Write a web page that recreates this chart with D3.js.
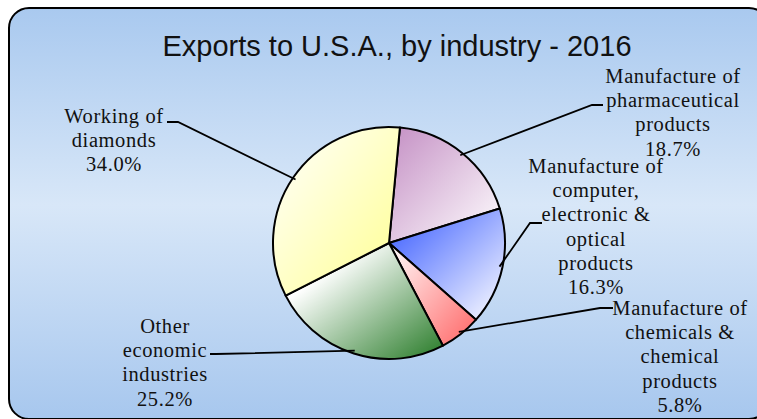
<!doctype html>
<html>
<head>
<style>
  body { margin: 0; background: #fff; }
  .lbl { font-family: "Liberation Serif", "Times New Roman", serif; font-size: 20.5px; letter-spacing: 0.6px; fill: #111; }
  .title { font-family: "Liberation Sans", Arial, sans-serif; font-size: 29px; fill: #111; }
</style>
<script src="https://cdn.jsdelivr.net/npm/d3@7"></script>
</head>
<body>
<svg width="757" height="419"></svg>
<script>

// data
var categories = ["pharma", "computer", "chemicals", "other", "diamonds"];
var values = [18.7, 16.3, 5.8, 25.2, 34.0];
var labelLines = [
    ["Manufacture of", "pharmaceutical", "products"],
    ["Manufacture of", "computer,", "electronic &", "optical", "products"],
    ["Manufacture of", "chemicals &", "chemical", "products"],
    ["Other", "economic", "industries"],
    ["Working of", "diamonds"]
];

// colours: [top-left, bottom-right]
var colors = {
    pharma: ["#c48fc4", "#ffffff"],
    computer: ["#3558ff", "#ffffff"],
    chemicals: ["#ffffff", "#ff6464"],
    other: ["#ffffff", "#267a26"],
    diamonds: ["#ffffff", "#ffff8f"]
};

// label layout: text centre x, first baseline, elbow start/end
var layout = {
    pharma:    { cx: 673, y: 83,  ex: 603, ey: 105, kx: 592 },
    computer:  { cx: 596, y: 173, ex: 542, ey: 223, kx: 530 },
    chemicals: { cx: 680, y: 315, ex: 613, ey: 308, kx: 600 },
    other:     { cx: 165, y: 333, ex: 210, ey: 354, kx: 216 },
    diamonds:  { cx: 114, y: 123, ex: 167, ey: 122, kx: 178 }
};

var svg = d3.select("svg");
var defs = svg.append("defs");

// background panel
var bg = defs.append("linearGradient").attr("id", "bg")
    .attr("x1", 0).attr("y1", 0).attr("x2", 0).attr("y2", 1);
bg.append("stop").attr("offset", "0%").attr("stop-color", "#a9c9ef");
bg.append("stop").attr("offset", "48%").attr("stop-color", "#d8e7f8");
bg.append("stop").attr("offset", "100%").attr("stop-color", "#a7c7ee");

svg.append("rect")
   .attr("x", 9).attr("y", 8)
   .attr("width", 760).attr("height", 411)
   .attr("rx", 20).attr("ry", 20)
   .attr("fill", "url(#bg)")
   .attr("stroke", "#000")
   .attr("stroke-width", 2);

svg.append("text")
   .attr("class", "title")
   .attr("x", 397)
   .attr("y", 56)
   .attr("text-anchor", "middle")
   .text("Exports to U.S.A., by industry - 2016");

categories.forEach(function(c) {
    var g = defs.append("linearGradient").attr("id", "g_" + c)
        .attr("x1", 0).attr("y1", 0).attr("x2", 1).attr("y2", 1);
    g.append("stop").attr("offset", c == "other" ? "25%" : "0%").attr("stop-color", colors[c][0]);
    g.append("stop").attr("offset", "100%").attr("stop-color", colors[c][1]);
});

var cx = 389, cy = 243, r = 116;
var start = 5.4 * Math.PI / 180;

var pie = d3.pie().sort(null).startAngle(start).endAngle(start + 2 * Math.PI);
var arcs = pie(values);
var arc = d3.arc().innerRadius(0).outerRadius(r);

var g = svg.append("g").attr("transform", "translate(" + cx + "," + cy + ")");

g.selectAll("path")
 .data(arcs)
 .enter().append("path")
 .attr("d", arc)
 .attr("fill", function(d, i) { return "url(#g_" + categories[i] + ")"; })
 .attr("stroke", "#000")
 .attr("stroke-width", 2)
 .attr("stroke-linejoin", "round");

// leader lines
arcs.forEach(function(d, i) {
    var L = layout[categories[i]];
    var a = (d.startAngle + d.endAngle) / 2;
    var px = cx + (r - 3) * Math.sin(a), py = cy - (r - 3) * Math.cos(a);
    svg.append("polyline")
       .attr("points", [[L.ex, L.ey], [L.kx, L.ey], [px, py]].join(" "))
       .attr("fill", "none")
       .attr("stroke", "#000")
       .attr("stroke-width", 1.8);
});

// labels
var fmt = d3.format(".1f");
categories.forEach(function(c, i) {
    var L = layout[c];
    var lines = labelLines[i].concat([fmt(values[i]) + "%"]);
    var t = svg.append("text")
       .attr("class", "lbl")
       .attr("text-anchor", "middle");
    lines.forEach(function(s, j) {
        t.append("tspan")
         .attr("x", L.cx)
         .attr("y", L.y + j * 24.2)
         .text(s);
    });
});

</script>
</body>
</html>
